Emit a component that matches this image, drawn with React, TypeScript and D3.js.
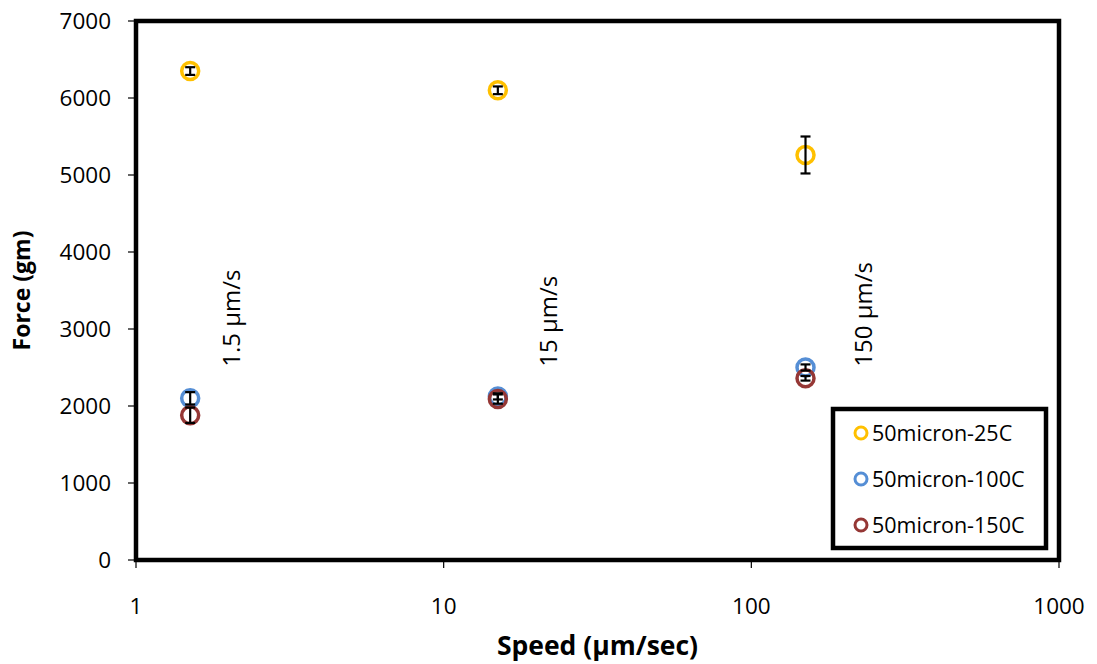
import React from "react";
import * as d3 from "d3";

const speeds = [1.5, 15, 150];
const seriesNames = ["50micron-25C", "50micron-100C", "50micron-150C"];
const seriesColors = ["#FFC000", "#558ED5", "#953735"];
const force25C = [6350, 6100, 5260];
const err25C = [50, 50, 240];
const force100C = [2100, 2125, 2500];
const err100C = [80, 40, 40];
const force150C = [1880, 2090, 2360];
const err150C = [100, 60, 30];
const xTicks = [1, 10, 100, 1000];
const yTicks = [0, 1000, 2000, 3000, 4000, 5000, 6000, 7000];
const speedLabels = ["1.5 µm/s", "15 µm/s", "150 µm/s"];
const speedLabelX = [2.18, 23.4, 247];
const speedLabelY = 2510;

const W = 1097;
const H = 664;
const M = { left: 136, top: 21, right: 1059, bottom: 560 };
const FONT = "'Open Sans', 'Liberation Sans', sans-serif";

export default function App() {
  const x = d3.scaleLog().domain([1, 1000]).range([M.left, M.right]);
  const y = d3.scaleLinear().domain([0, 7000]).range([M.bottom, M.top]);
  const series = [
    { vals: force25C, errs: err25C },
    { vals: force100C, errs: err100C },
    { vals: force150C, errs: err150C },
  ];
  const order = [0, 1, 2];
  return (
    <svg width={W} height={H} style={{ position: "absolute", left: 0, top: 0 }} fontFamily={FONT}>
      <rect x={0} y={0} width={W} height={H} fill="#fff" />
      {yTicks.map((t) => (
        <g key={"y" + t}>
          <line x1={M.left - 8} x2={M.left} y1={y(t)} y2={y(t)} stroke="#000" strokeWidth={1.2} />
          <text x={M.left - 25} y={y(t)} dy="0.36em" textAnchor="end" fontSize={22.5}>
            {t}
          </text>
        </g>
      ))}
      {xTicks.map((t) => (
        <g key={"x" + t}>
          <line x1={x(t)} x2={x(t)} y1={M.bottom} y2={M.bottom + 8} stroke="#000" strokeWidth={1.2} />
          <text x={x(t)} y={M.bottom + 54} textAnchor="middle" fontSize={22.5}>
            {t}
          </text>
        </g>
      ))}
      <rect
        x={M.left}
        y={M.top}
        width={M.right - M.left}
        height={M.bottom - M.top}
        fill="none"
        stroke="#000"
        strokeWidth={4.5}
      />
      {speedLabels.map((s, i) => (
        <text
          key={s}
          transform={`translate(${x(speedLabelX[i])},${y(speedLabelY)}) rotate(-90)`}
          textAnchor="start"
          fontSize={24}
        >
          {s}
        </text>
      ))}
      {order.map((si) => (
        <g key={"s" + si}>
          {speeds.map((sp, i) => (
            <circle
              key={i}
              cx={x(sp)}
              cy={y(series[si].vals[i])}
              r={8.5}
              fill="none"
              stroke={seriesColors[si]}
              strokeWidth={3.5}
            />
          ))}
        </g>
      ))}
      {order.map((si) => (
        <g key={"e" + si}>
          {speeds.map((sp, i) => {
            const cx = x(sp);
            const v = series[si].vals[i];
            const e = series[si].errs[i];
            return (
              <g key={i} stroke="#000" strokeWidth={2.2}>
                <line x1={cx} x2={cx} y1={y(v - e)} y2={y(v + e)} />
                <line x1={cx - 5} x2={cx + 5} y1={y(v - e)} y2={y(v - e)} />
                <line x1={cx - 5} x2={cx + 5} y1={y(v + e)} y2={y(v + e)} />
              </g>
            );
          })}
        </g>
      ))}
      <rect x={833} y={409} width={213} height={139} fill="#fff" stroke="#000" strokeWidth={4.5} />
      {seriesNames.map((n, i) => (
        <g key={n}>
          <circle cx={861} cy={433 + i * 46} r={6} fill="none" stroke={seriesColors[i]} strokeWidth={3} />
          <text x={872} y={433 + i * 46} dy="0.36em" fontSize={21.5}>
            {n}
          </text>
        </g>
      ))}
      <text x={(M.left + M.right) / 2} y={655} textAnchor="middle" fontSize={26.5} fontWeight="bold">
        Speed (µm/sec)
      </text>
      <text
        transform={`translate(30,${(M.top + M.bottom) / 2}) rotate(-90)`}
        textAnchor="middle"
        fontSize={23}
        fontWeight="bold"
      >
        Force (gm)
      </text>
    </svg>
  );
}
